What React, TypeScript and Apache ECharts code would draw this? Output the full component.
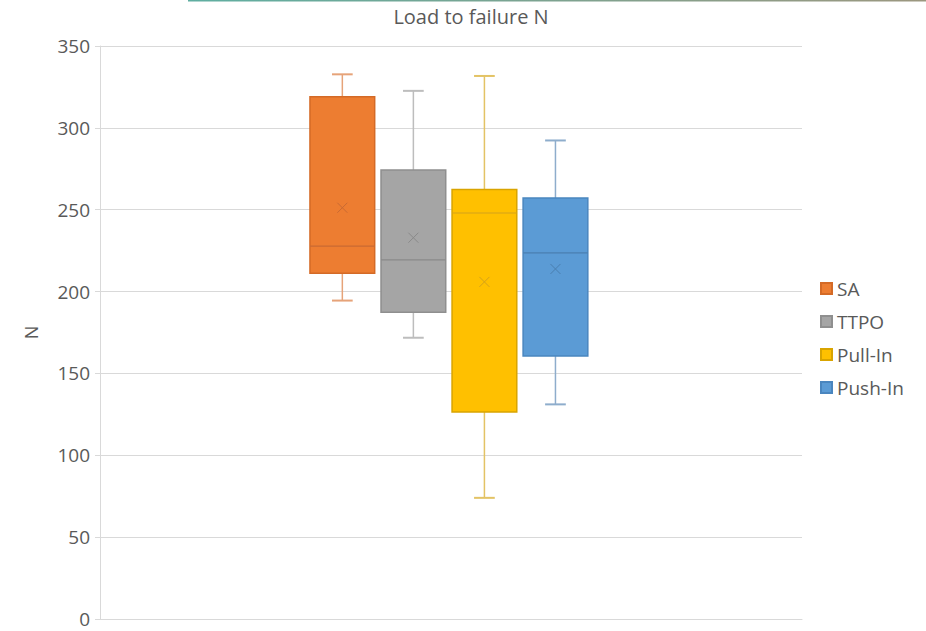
import React, { useEffect, useRef } from "react";
import * as echarts from "echarts";

const categories = ["Load to failure N"];
const seriesNames = ["SA", "TTPO", "Pull-In", "Push-In"];
const minValues = [194.5, 171.8, 74.0, 131.1];
const q1Values = [211.2, 187.4, 126.4, 160.6];
const medianValues = [227.8, 219.3, 248.0, 223.6];
const q3Values = [319.0, 274.2, 262.4, 257.1];
const maxValues = [332.7, 322.6, 331.7, 292.3];
const meanValues = [251.2, 232.9, 205.9, 213.8];
const yMin = 0;
const yMax = 350;
const yInterval = 50;

const fills = ["#ED7D31", "#A5A5A5", "#FFC000", "#5B9BD5"];
const borders = ["#D46A26", "#8F8F8F", "#D9A400", "#4A86BF"];
const whiskers = ["#E6A379", "#BDBDBD", "#E3C365", "#8EADCC"];
const marks = ["#C96A33", "#8A8A8A", "#D4A21A", "#4A7FB0"];

const FONT = "'Open Sans', 'Noto Sans', sans-serif";

export default function App() {
  const ref = useRef<HTMLDivElement>(null);
  useEffect(() => {
    document.body.style.margin = "0";
    if (!ref.current) return;
    const chart = echarts.init(ref.current, undefined, { renderer: "svg" });

    const makeRender = (i: number) => (params: any, api: any) => {
      const band = api.size([1, 0])[0];
      const step = band * 0.1012;
      const bw = band * 0.0922;
      const cat = api.value(0);
      const cx = api.coord([cat, 0])[0] + (i - 1.5) * step - band * 0.003;
      const py = (v: number) => api.coord([cat, v])[1];
      const vMin = py(api.value(1));
      const vQ1 = py(api.value(2));
      const vMed = py(api.value(3));
      const vQ3 = py(api.value(4));
      const vMax = py(api.value(5));
      const vMean = py(api.value(6));
      const cap = bw * 0.16;
      const m = 5;
      const wStyle = { stroke: whiskers[i], lineWidth: 1.5 };
      return {
        type: "group",
        children: [
          { type: "line", shape: { x1: cx, y1: vMax, x2: cx, y2: vQ3 }, style: wStyle },
          { type: "line", shape: { x1: cx, y1: vQ1, x2: cx, y2: vMin }, style: wStyle },
          { type: "line", shape: { x1: cx - cap, y1: vMax, x2: cx + cap, y2: vMax }, style: { stroke: whiskers[i], lineWidth: 2 } },
          { type: "line", shape: { x1: cx - cap, y1: vMin, x2: cx + cap, y2: vMin }, style: { stroke: whiskers[i], lineWidth: 2 } },
          {
            type: "rect",
            shape: { x: cx - bw / 2, y: vQ3, width: bw, height: vQ1 - vQ3 },
            style: { fill: fills[i], stroke: borders[i], lineWidth: 1.5 },
          },
          { type: "line", shape: { x1: cx - bw / 2, y1: vMed, x2: cx + bw / 2, y2: vMed }, style: { stroke: marks[i], lineWidth: 1.2 } },
          { type: "line", shape: { x1: cx - m, y1: vMean - m, x2: cx + m, y2: vMean + m }, style: { stroke: marks[i], lineWidth: 1 } },
          { type: "line", shape: { x1: cx - m, y1: vMean + m, x2: cx + m, y2: vMean - m }, style: { stroke: marks[i], lineWidth: 1 } },
        ],
      };
    };

    const series = seriesNames.map((name, i) => ({
      name,
      type: "custom",
      renderItem: makeRender(i),
      itemStyle: { color: fills[i], borderColor: borders[i], borderWidth: 1 },
      encode: { x: 0, y: [1, 2, 3, 4, 5, 6] },
      data: [[0, minValues[i], q1Values[i], medianValues[i], q3Values[i], maxValues[i], meanValues[i]]],
      clip: false,
    }));

    chart.setOption({
      animation: false,
      backgroundColor: "#ffffff",
      title: {
        text: "Load to failure N",
        left: 466,
        textAlign: "center",
        top: 1,
        textStyle: { fontFamily: FONT, fontSize: 20, fontWeight: "normal", color: "#595959" },
      },
      graphic: [
        {
          type: "rect",
          shape: { x: 188, y: 0, width: 738, height: 1.5 },
          style: {
            fill: new echarts.graphic.LinearGradient(0, 0, 1, 0, [
              { offset: 0, color: "#5FAEA1" },
              { offset: 1, color: "#9C977F" },
            ]),
          },
        },
      ],
      legend: {
        orient: "vertical",
        left: 815,
        top: 274,
        itemWidth: 11,
        itemHeight: 11,
        itemGap: 14,
        icon: "rect",
        data: seriesNames,
        textStyle: { fontFamily: FONT, fontSize: 19, color: "#595959", lineHeight: 19 },
      },
      grid: { left: 100, right: 124, top: 46, bottom: 12, containLabel: false },
      xAxis: {
        type: "category",
        data: categories,
        axisLine: { show: true, lineStyle: { color: "#D9D9D9" } },
        axisTick: { show: false },
        axisLabel: { show: false },
        splitLine: { show: false },
      },
      yAxis: {
        type: "value",
        min: yMin,
        max: yMax,
        interval: yInterval,
        name: "N",
        nameLocation: "middle",
        nameGap: 60,
        nameTextStyle: { fontFamily: FONT, fontSize: 18, color: "#595959" },
        axisLine: { show: true, lineStyle: { color: "#D9D9D9" } },
        axisTick: { show: true, length: 5, lineStyle: { color: "#D9D9D9" } },
        axisLabel: { fontFamily: FONT, fontSize: 19, color: "#595959", margin: 10 },
        splitLine: { show: true, lineStyle: { color: "#D9D9D9" } },
      },
      series,
    });
    return () => chart.dispose();
  }, []);
  return <div ref={ref} style={{ width: 926, height: 631 }} />;
}
